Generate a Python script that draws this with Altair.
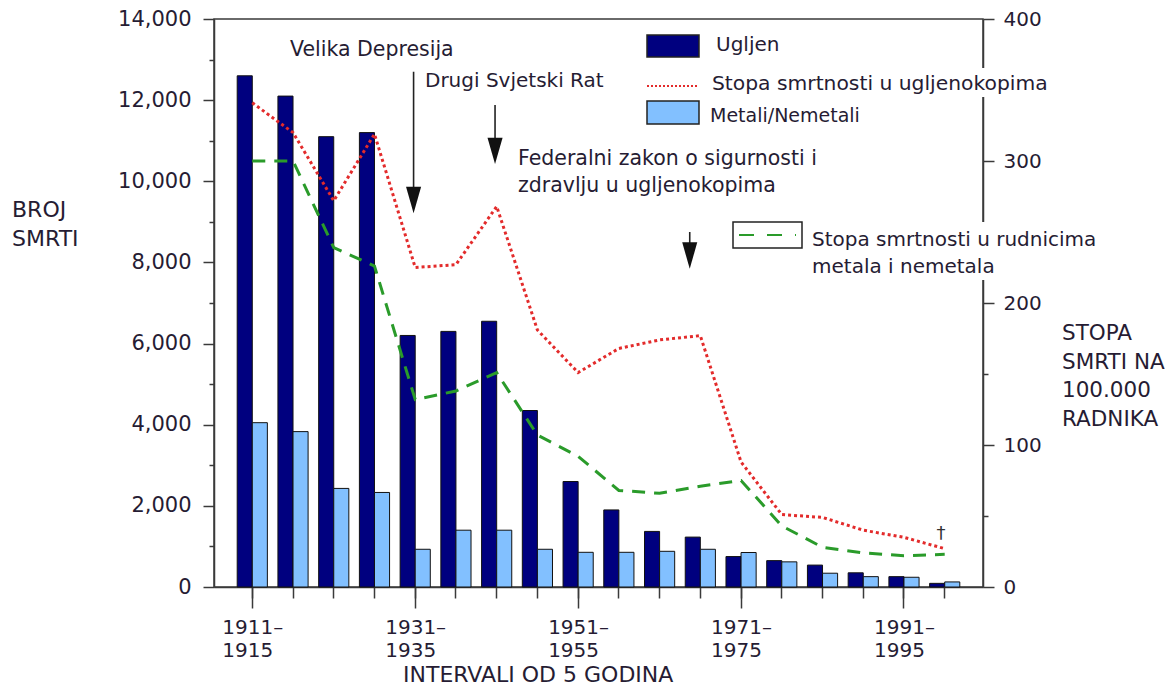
import altair as alt
import pandas as pd

# ---------------- data ----------------
intervals = ["1911–1915", "1916–1920", "1921–1925", "1926–1930", "1931–1935", "1936–1940",
             "1941–1945", "1946–1950", "1951–1955", "1956–1960", "1961–1965", "1966–1970",
             "1971–1975", "1976–1980", "1981–1985", "1986–1990", "1991–1995", "1996–2000"]
coal_deaths = [12600, 12100, 11100, 11200, 6200, 6300, 6550, 4350, 2600, 1900, 1370, 1230,
               750, 650, 540, 350, 255, 90]
metal_deaths = [4050, 3830, 2430, 2330, 930, 1400, 1400, 930, 855, 855, 880, 930,
                850, 620, 340, 255, 240, 125]
coal_rate = [341, 320, 272, 319, 225, 227, 268, 181, 151, 168, 174, 177, 88, 51, 49, 40, 35, 27]
metal_rate = [300, 300, 239, 226, 132, 138, 151, 107, 92, 68, 66, 71, 75, 43, 28, 24, 22, 23]
labeled = ["1911–1915", "1931–1935", "1951–1955", "1971–1975", "1991–1995"]
group_names = ["Ugljen", "Metali/Nemetali"]
rate_names = ["Stopa smrtnosti u ugljenokopima", "Stopa smrtnosti u rudnicima metala i nemetala"]
left_ticks = [0, 2000, 4000, 6000, 8000, 10000, 12000, 14000]
left_minor = [1000, 3000, 5000, 7000, 9000, 11000, 13000]
right_ticks = [0, 100, 200, 300, 400]
right_minor = [50, 150, 250, 350]
events = ["Velika Depresija", "Drugi Svjetski Rat"]
event_intervals = ["1931–1935", "1941–1945"]
event_top = [12700, 11880]
event_head = [9540, 10750]
law_interval = ["1966–1970"]
law_top = [8750]
law_head = [8170]

FONT = "DejaVu Sans"
INK = "#261c33"
AX = "#3a3a3a"
NAVY = "#00007f"
LIGHT = "#82c0ff"
RED = "#e32b2b"
GREEN = "#2a9b2a"

bars_df = pd.DataFrame({
    "interval": intervals * 2,
    "group": [group_names[0]] * len(intervals) + [group_names[1]] * len(intervals),
    "deaths": coal_deaths + metal_deaths,
})
rates_df = pd.DataFrame({
    "interval": intervals * 2,
    "series": [rate_names[0]] * len(intervals) + [rate_names[1]] * len(intervals),
    "rate": coal_rate + metal_rate,
})
ev_df = pd.DataFrame({"interval": event_intervals, "top": event_top, "head": event_head})
law_df = pd.DataFrame({"interval": law_interval, "top": law_top, "head": law_head})
one = pd.DataFrame({"k": [0]})

xscale = alt.Scale(domain=intervals, paddingInner=0, paddingOuter=0.44)
yleft = alt.Scale(domain=[0, 14000], nice=False, zero=True)
yright = alt.Scale(domain=[0, 400], nice=False, zero=True)

label_expr = "[slice(datum.value, 0, 5), slice(datum.value, 5)]"

# ---------------- bars ----------------
bars = alt.Chart(bars_df).mark_bar(stroke="#111111", strokeWidth=1).encode(
    x=alt.X("interval:N", scale=xscale, sort=intervals,
            axis=alt.Axis(values=labeled, orient="bottom", tickSize=21, tickWidth=1.5,
                          tickColor=AX, domainColor=AX, domainWidth=1.5,
                          labelExpr=label_expr, labelAngle=0, labelAlign="left",
                          labelOffset=-30, labelBaseline="top", labelPadding=9,
                          labelFont=FONT, labelFontSize=20, labelLineHeight=23,
                          labelColor=INK, title=None)),
    xOffset=alt.XOffset("group:N", sort=group_names,
                        scale=alt.Scale(domain=group_names, paddingInner=0, paddingOuter=0.35)),
    y=alt.Y("deaths:Q", scale=yleft,
            axis=alt.Axis(orient="left", values=left_ticks, format=",d", tickSize=11,
                          tickWidth=1.5, tickColor=AX, domainColor=AX, domainWidth=1.5,
                          labelPadding=12, labelFont=FONT, labelFontSize=21,
                          labelColor=INK, title=None, grid=False)),
    color=alt.Color("group:N", scale=alt.Scale(domain=group_names, range=[NAVY, LIGHT]),
                    legend=None),
)

minor_left = alt.Chart(bars_df).mark_bar(opacity=0).encode(
    x=alt.X("interval:N", scale=xscale, sort=intervals,
            axis=alt.Axis(orient="bottom", tickSize=11, tickWidth=1.5, tickColor=AX,
                          labels=False, domain=False, title=None)),
    y=alt.Y("deaths:Q", scale=yleft,
            axis=alt.Axis(orient="left", values=left_minor, tickSize=5, tickWidth=1.5,
                          tickColor=AX, labels=False, domain=False, title=None, grid=False)),
)

# ---------------- rate lines ----------------
lines = alt.Chart(rates_df).mark_line(strokeWidth=3).encode(
    x=alt.X("interval:N", scale=xscale, sort=intervals, axis=None),
    y=alt.Y("rate:Q", scale=yright,
            axis=alt.Axis(orient="right", values=right_ticks, tickSize=11, tickWidth=1.5,
                          tickColor=AX, domainColor=AX, domainWidth=1.5, labelPadding=9,
                          labelFont=FONT, labelFontSize=20, labelColor=INK, title=None,
                          grid=False)),
    color=alt.Color("series:N", scale=alt.Scale(domain=rate_names, range=[RED, GREEN]),
                    legend=None),
    strokeDash=alt.StrokeDash("series:N",
                              scale=alt.Scale(domain=rate_names, range=[[3, 3], [13, 9]]),
                              legend=None),
)

minor_right = alt.Chart(rates_df).mark_point(opacity=0).encode(
    x=alt.X("interval:N", scale=xscale, sort=intervals, axis=None),
    y=alt.Y("rate:Q", scale=yright,
            axis=alt.Axis(orient="right", values=right_minor, tickSize=5, tickWidth=1.5,
                          tickColor=AX, labels=False, domain=False, title=None, grid=False)),
)

# ---------------- arrows ----------------
HEAD = "M-0.57,-1L0.57,-1L0,1Z"


def arrow(df, band):
    xenc = alt.X("interval:N", scale=xscale, sort=intervals, axis=None, bandPosition=band)
    shaft = alt.Chart(df).mark_rule(color="#222222", strokeWidth=1.6).encode(
        x=xenc,
        y=alt.Y("top:Q", scale=yleft, axis=None),
        y2="head:Q",
    )
    head = alt.Chart(df).mark_point(shape=HEAD, filled=True, size=700, color="#111111",
                                    opacity=1).encode(
        x=xenc,
        y=alt.Y("head:Q", scale=yleft, axis=None),
    )
    return [shaft, head]


# ---------------- helpers for text / legend ----------------
def text(t, x, y, size=20, color=INK, lh=None, align="left", baseline="alphabetic"):
    kw = dict(font=FONT, fontSize=size, align=align, baseline=baseline, color=color)
    if lh is not None:
        kw["lineHeight"] = lh
    return alt.Chart(one).mark_text(**kw).encode(
        x=alt.value(x), y=alt.value(y), text=alt.value(t))


def box(x1, x2, y1, y2, fill, stroke=None, sw=1.5):
    kw = dict(color=fill)
    if stroke is not None:
        kw.update(stroke=stroke, strokeWidth=sw)
    return alt.Chart(one).mark_rect(**kw).encode(
        x=alt.value(x1), x2=alt.value(x2), y=alt.value(y1), y2=alt.value(y2))


def hline(x1, x2, y, color, dash, sw=2):
    return alt.Chart(one).mark_rule(color=color, strokeDash=dash, strokeWidth=sw).encode(
        x=alt.value(x1), x2=alt.value(x2), y=alt.value(y))


layers = [bars, minor_left, lines, minor_right]
layers += arrow(ev_df, 0.46)
layers += arrow(law_df, 0.24)

# white backgrounds of legend texts (they interrupt the right axis)
layers += [
    box(492, 850, 49, 78, "white"),
    box(591, 890, 203, 261, "white"),
]

# legend
layers += [
    box(433, 485, 16, 38, NAVY, "#222222"),
    hline(433, 484, 67, RED, [2, 2], 2),
    box(433, 485, 82, 105, LIGHT, "#222222"),
    text(group_names[0], 502, 32, 20),
    text(rate_names[0], 498, 71, 20.3),
    text(group_names[1], 496, 103, 19),
    box(519, 588, 203, 229, "white", "#222222"),
    hline(525, 582, 216, GREEN, [15, 13], 2),
    text(["Stopa smrtnosti u rudnicima", "metala i nemetala"], 598, 227, 20, lh=27),
]

# annotations
layers += [
    text(events[0], 76, 37, 20.5),
    text(events[1], 211, 68, 20),
    text(["Federalni zakon o sigurnosti i", "zdravlju u ugljenokopima"], 304, 146, 20.5, lh=27),
    text("†", 727, 520, 18, color="#333333", align="center"),
]

# axis titles
layers += [
    text(["BROJ", "SMRTI"], -202, 198, 22, lh=29),
    text(["STOPA", "SMRTI NA", "100.000", "RADNIKA"], 848, 321, 21.5, lh=28.5),
    text("INTERVALI OD 5 GODINA", 189, 663, 22),
]

chart = alt.layer(*layers).resolve_scale(
    y="independent", color="independent", strokeDash="independent"
).resolve_axis(
    x="independent"
).properties(
    width=769,
    height=568,
    padding={"left": 206, "top": 11, "right": 183, "bottom": 101},
    autosize=alt.AutoSizeParams(type="none"),
    background="white",
).configure_view(
    stroke=AX, strokeWidth=1.5
).configure_axis(
    grid=False
)

chart.save("out.html", embed_options={"renderer": "svg", "actions": False})
